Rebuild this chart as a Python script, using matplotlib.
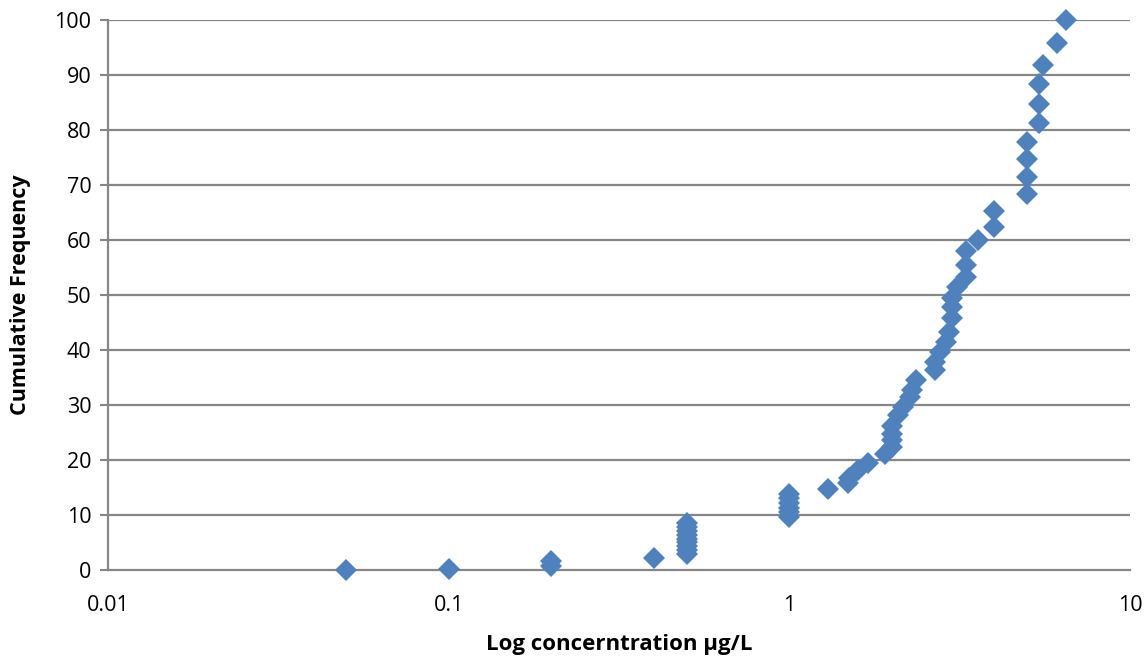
import numpy as np
import matplotlib.pyplot as plt
from matplotlib.ticker import FixedLocator, FixedFormatter, NullLocator

# concentration (ug/L) and cumulative frequency (%) of each sample
conc = [0.05, 0.1, 0.2, 0.2, 0.4,
        0.5, 0.5, 0.5, 0.5, 0.5, 0.5, 0.5, 0.5, 0.5,
        1.0, 1.0, 1.0, 1.0, 1.0, 1.0,
        1.3, 1.49, 1.5, 1.59, 1.7, 1.91,
        2.0, 2.0, 2.0, 2.0, 2.09, 2.16, 2.26, 2.29, 2.36,
        2.68, 2.68, 2.77, 2.89, 2.95, 3.0, 3.0, 3.0, 3.1,
        3.3, 3.3, 3.3, 3.59, 4.0, 4.0,
        5.0, 5.0, 5.0, 5.0, 5.41, 5.41, 5.41, 5.57, 6.1, 6.5]
cum_freq = [0.0, 0.2, 0.7, 1.7, 2.2,
            2.9, 3.6, 4.3, 5.0, 5.7, 6.4, 7.1, 7.8, 8.5,
            9.7, 10.5, 11.3, 12.1, 13.0, 13.9,
            14.7, 15.9, 16.8, 18.2, 19.4, 21.1,
            22.4, 23.6, 24.8, 26.1, 28.2, 29.7, 31.5, 32.7, 34.5,
            36.4, 37.9, 39.7, 41.5, 43.3, 45.8, 47.9, 49.4, 51.5,
            53.3, 55.5, 58.0, 60.0, 62.4, 65.2,
            68.4, 71.5, 74.7, 77.9, 81.3, 84.7, 88.3, 91.8, 95.8, 100.0]

x_ticks = [0.01, 0.1, 1, 10]
x_labels = ["0.01", "0.1", "1", "10"]
y_ticks = list(range(0, 101, 10))

plt.rcParams['font.family'] = ['Open Sans', 'DejaVu Sans']

fig = plt.figure(figsize=(11.46, 6.61), dpi=100)
ax = fig.add_axes([0.0942, 0.1377, 0.8918, 0.832])

blue = "#4F81BD"
grid = "#868686"

ax.set_xscale("log")
ax.set_xlim(0.01, 10)
ax.set_ylim(0, 100)

for yv in y_ticks[1:]:
    ax.axhline(yv, color=grid, lw=1.6, zorder=1)

ax.plot(conc, cum_freq, linestyle="none", marker="D", markersize=11,
        color=blue, markeredgewidth=0, clip_on=False, zorder=3)

ax.xaxis.set_major_locator(FixedLocator(x_ticks))
ax.xaxis.set_major_formatter(FixedFormatter(x_labels))
ax.xaxis.set_minor_locator(NullLocator())
ax.set_yticks(y_ticks)

ax.tick_params(axis="x", length=0, labelsize=15.5, pad=18, colors="black")
ax.tick_params(axis="y", length=6, width=1.5, color=grid, labelsize=15.5, pad=6)

for side in ("top", "right"):
    ax.spines[side].set_visible(False)
for side in ("left", "bottom"):
    ax.spines[side].set_color(grid)
    ax.spines[side].set_linewidth(1.6)

ax.set_xlabel("Log concerntration µg/L", fontsize=16, fontweight="bold", labelpad=13)
ax.set_ylabel("Cumulative Frequency", fontsize=15.5, fontweight="bold", labelpad=17)

fig.savefig("out.png", dpi=100)
